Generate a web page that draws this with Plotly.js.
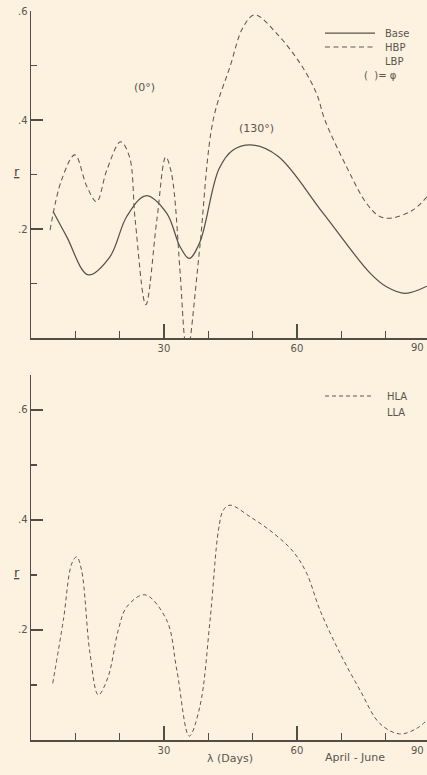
<!DOCTYPE html>
<html>
<head>
<meta charset="utf-8">
<script src="https://cdn.plot.ly/plotly-3.0.1.min.js"></script>
<style>
html, body { margin:0; padding:0; overflow:hidden; background:#fcf2df; }
#chart { width:445px; height:775px; }
</style>
</head>
<body>
<div id="chart"></div>
<script>
// ---- Data ----
const daysBase = [5.0, 8.05, 12.9, 17.8, 21.6, 25.9, 30.6, 33.6, 35.7, 38.1, 42.4, 45.6, 50.1, 55.8, 65.9, 76.5, 80.2, 84.4, 89.3];
const rBase    = [0.232, 0.186, 0.116, 0.149, 0.223, 0.261, 0.229, 0.168, 0.146, 0.176, 0.31, 0.345, 0.354, 0.333, 0.229, 0.119, 0.094, 0.082, 0.095];

const daysHBP = [4.3, 6.9, 9.9, 12.6, 14.8, 17.1, 20.2, 22.2, 23.5, 25.9, 28.4, 30.4, 31.7, 33.6, 34.6, 35.3, 36.0, 38.1, 41.1, 44.9, 47.9, 50.5, 55.4, 60.7, 64.4, 66.3, 71.2, 75.7, 78.7, 81.4, 86.2, 89.3];
const rHBP    = [0.198, 0.29, 0.336, 0.278, 0.25, 0.308, 0.36, 0.333, 0.217, 0.061, 0.217, 0.332, 0.302, 0.125, 0.002, -0.04, 0.002, 0.168, 0.4, 0.498, 0.571, 0.593, 0.559, 0.504, 0.449, 0.4, 0.314, 0.247, 0.223, 0.22, 0.235, 0.259];

const daysHLA = [4.9, 7.3, 9.2, 10.3, 11.4, 13.3, 15.2, 17.4, 19.7, 21.6, 25.7, 30.6, 32.9, 35.7, 38.1, 40.4, 42.3, 43.4, 44.9, 49.4, 54.7, 59.2, 62.2, 65.2, 69.7, 74.2, 78.7, 83.2, 87.0, 89.3];
const rHLA    = [0.103, 0.218, 0.321, 0.333, 0.309, 0.158, 0.082, 0.115, 0.2, 0.242, 0.264, 0.218, 0.127, 0.007, 0.061, 0.218, 0.382, 0.418, 0.427, 0.406, 0.376, 0.342, 0.303, 0.236, 0.158, 0.091, 0.03, 0.011, 0.021, 0.036];

const xMajorTicks = [30, 60, 90];
const xMajorLabels = ['30', '60', ''];   // "90" sits at the page edge, drawn as an annotation below
const lastXLabel = '90';
const xMinorTicks = [10, 20, 40, 50, 70, 80];
const yMajorTicks = [0.2, 0.4, 0.6];
const yMajorLabels = ['.2', '.4', '.6'];
const yMinorTicksTop = [0.1, 0.3, 0.5];
const yMinorTicksBottom = [0.1, 0.3, 0.5, 0.662];

// ---- Styles ----
const ink = '#524d47';
const bg = '#fcf2df';
const fontFam = 'DejaVu Sans, sans-serif';
const solidLine = {color: '#57524c', width: 1.25, shape: 'spline', smoothing: 1};
const dashTop = {color: '#5e5953', width: 1.05, dash: '5px,3.5px', shape: 'spline', smoothing: 1};
const dashBot = {color: '#5e5953', width: 1.0, dash: '4px,3px', shape: 'spline', smoothing: 1};

const traces = [
  {x: daysBase, y: rBase, type: 'scatter', mode: 'lines', name: 'Base', line: solidLine, xaxis: 'x', yaxis: 'y', showlegend: false, hoverinfo: 'skip'},
  {x: daysHBP, y: rHBP, type: 'scatter', mode: 'lines', name: 'HBP', line: dashTop, xaxis: 'x', yaxis: 'y', showlegend: false, hoverinfo: 'skip'},
  {x: daysHLA, y: rHLA, type: 'scatter', mode: 'lines', name: 'HLA', line: dashBot, xaxis: 'x2', yaxis: 'y2', showlegend: false, hoverinfo: 'skip'}
];

function xAxis(anchor) {
  return {
    anchor: anchor, domain: [0, 1], range: [0, 93.4],
    showline: true, linecolor: ink, linewidth: 1.5,
    showgrid: false, zeroline: false,
    tickmode: 'array', tickvals: xMajorTicks, ticktext: xMajorLabels,
    ticks: 'inside', ticklen: 14, tickwidth: 1.3, tickcolor: ink,
    tickfont: {family: fontFam, size: 10, color: '#5a554f'},
    minor: {tickmode: 'array', tickvals: xMinorTicks, ticks: 'inside', ticklen: 7, tickwidth: 1.2, tickcolor: ink, showgrid: false},
    fixedrange: true
  };
}
function yAxis(anchor, domain, range, minorVals) {
  return {
    anchor: anchor, domain: domain, range: range,
    showline: true, linecolor: ink, linewidth: 1.5,
    showgrid: false, zeroline: false,
    tickmode: 'array', tickvals: yMajorTicks, ticktext: yMajorLabels,
    ticks: 'inside', ticklen: 12, tickwidth: 1.3, tickcolor: ink,
    tickfont: {family: fontFam, size: 10, color: '#5a554f'},
    minor: {tickmode: 'array', tickvals: minorVals, ticks: 'inside', ticklen: 6, tickwidth: 1.2, tickcolor: ink, showgrid: false},
    fixedrange: true
  };
}

// paper helpers (plot area: x 31..445 px, y 0..775 px)
const px = v => (v - 31) / 414;
const py = v => (775 - v) / 775;

const txt = {family: fontFam, size: 10, color: '#5a554f'};

const layout = {
  width: 445, height: 775,
  margin: {l: 31, r: 0, t: 0, b: 0},
  paper_bgcolor: bg, plot_bgcolor: bg,
  showlegend: false,
  xaxis: xAxis('y'),
  yaxis: yAxis('x', [py(338), py(11)], [0, 0.6], yMinorTicksTop),
  xaxis2: xAxis('y2'),
  yaxis2: yAxis('x2', [py(740), py(375)], [0, 0.6636], yMinorTicksBottom),
  shapes: [
    {type: 'line', xref: 'paper', yref: 'paper', x0: px(325), x1: px(375), y0: py(33), y1: py(33), line: {color: '#57524c', width: 1.25}},
    {type: 'line', xref: 'paper', yref: 'paper', x0: px(325), x1: px(375), y0: py(47), y1: py(47), line: {color: '#5e5953', width: 1.05, dash: '5px,3.5px'}},
    {type: 'line', xref: 'paper', yref: 'paper', x0: px(325), x1: px(372), y0: py(396), y1: py(396), line: {color: '#5e5953', width: 1.0, dash: '4px,3px'}}
  ],
  annotations: [
    {xref: 'paper', yref: 'paper', x: px(383), y: py(33), xanchor: 'left', yanchor: 'middle', text: 'Base', showarrow: false, font: txt},
    {xref: 'paper', yref: 'paper', x: px(383), y: py(47), xanchor: 'left', yanchor: 'middle', text: 'HBP', showarrow: false, font: txt},
    {xref: 'paper', yref: 'paper', x: px(383), y: py(61), xanchor: 'left', yanchor: 'middle', text: 'LBP', showarrow: false, font: txt},
    {xref: 'paper', yref: 'paper', x: px(362), y: py(76), xanchor: 'left', yanchor: 'middle', text: '(  )= φ', showarrow: false, font: txt},
    {xref: 'paper', yref: 'paper', x: px(385), y: py(396), xanchor: 'left', yanchor: 'middle', text: 'HLA', showarrow: false, font: txt},
    {xref: 'paper', yref: 'paper', x: px(385), y: py(412), xanchor: 'left', yanchor: 'middle', text: 'LLA', showarrow: false, font: txt},
    {xref: 'paper', yref: 'paper', x: px(426), y: py(348), xanchor: 'right', yanchor: 'middle', text: lastXLabel, showarrow: false, font: txt},
    {xref: 'paper', yref: 'paper', x: px(426), y: py(750), xanchor: 'right', yanchor: 'middle', text: lastXLabel, showarrow: false, font: txt},
    {xref: 'x', yref: 'y', x: 25.7, y: 0.46, text: '(0°)', showarrow: false, font: {family: fontFam, size: 11, color: '#5a554f'}},
    {xref: 'x', yref: 'y', x: 50.8, y: 0.385, text: '(130°)', showarrow: false, font: {family: fontFam, size: 11, color: '#5a554f'}},
    {xref: 'paper', yref: 'y', x: px(12), y: 0.306, text: '<u>r</u>', showarrow: false, font: {family: fontFam, size: 13, color: '#4e4943'}},
    {xref: 'paper', yref: 'y2', x: px(12), y: 0.304, text: '<u>r</u>', showarrow: false, font: {family: fontFam, size: 13, color: '#4e4943'}},
    {xref: 'x2', yref: 'paper', x: 44.9, y: py(767), text: 'λ (Days)', showarrow: false, font: {family: fontFam, size: 11, color: '#5a554f'}},
    {xref: 'x2', yref: 'paper', x: 73.1, y: py(766), text: 'April - June', showarrow: false, font: {family: fontFam, size: 11, color: '#5a554f'}}
  ]
};

Plotly.newPlot('chart', traces, layout, {displayModeBar: false, staticPlot: true});
</script>
</body>
</html>
